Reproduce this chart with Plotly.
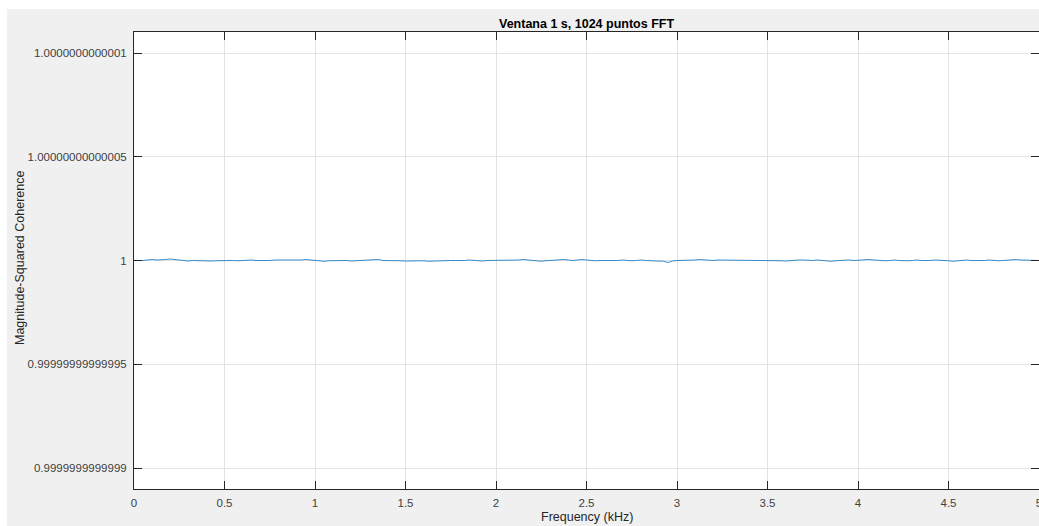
import numpy as np
import plotly.graph_objects as go

# Frequency axis (kHz) and magnitude-squared coherence deviation from 1, in units of 1e-16
freq_khz = np.round(np.arange(0, 201) * 0.025, 4)
msc_dev_e16 = [
    0, -1, 1, 2, 4, 2, 3, 5, 6, 4, 1, -1, -2, 0, -1, 1, 0, -2, -1, 1,
    0, 2, 1, -1, 0, 3, 2, 0, -1, -2, 1, 3, 2, -1, 0, 2, 1, 3, 4, 2,
    0, -1, -3, -1, 1, 0, 2, 1, -2, -1, 0, 1, 3, 5, 4, 1, 0, 2, 1, -1,
    -2, -1, 1, 0, -1, -3, -2, 0, 1, 2, 1, 0, -1, 1, 2, 0, -1, -2, 0, 1,
    3, 2, 0, -1, 1, 3, 4, 2, 0, -2, -3, -1, 1, 2, 4, 5, 3, 1, 3, 4,
    2, 0, -1, 1, 0, -2, -1, 1, 2, 0, -1, 0, 2, 1, -1, -2, 0, -3, -10, -2,
    0, 1, 2, 1, 3, 4, 2, 0, 1, 3, 2, 0, -1, 1, 0, 2, 3, 1, 0, -1,
    1, 2, 0, -1, -2, 0, 1, 3, 2, 0, 1, 2, 0, -2, -3, -1, 1, 2, 3, 1,
    0, 2, 4, 3, 1, 0, -1, 1, 2, 0, -2, -1, 1, 2, 1, -1, 0, 2, 3, 1,
    -1, -3, -1, 0, 2, 1, -1, 0, 1, 2, 0, -1, 1, 3, 5, 4, 2, 3, 1, 0, 1,
]
coherence = 1.0 + np.array(msc_dev_e16, dtype=float) * 1e-16

x_tickvals = [0, 0.5, 1, 1.5, 2, 2.5, 3, 3.5, 4, 4.5, 5]
x_ticktext = ["0", "0.5", "1", "1.5", "2", "2.5", "3", "3.5", "4", "4.5", "5"]
y_tickvals = [1 - 1e-13, 1 - 5e-14, 1.0, 1 + 5e-14, 1 + 1e-13]
y_ticktext = ["0.9999999999999", "0.99999999999995", "1",
              "1.00000000000005", "1.0000000000001"]

title_text = "Ventana 1 s, 1024 puntos FFT"
x_label = "Frequency (kHz)"
y_label = "Magnitude-Squared Coherence"

W, H = 1039, 526
L, R, T, B = 134, 0, 32, 37
PW, PH = W - L - R, H - T - B


def px_x(px):
    return (px - L) / PW


def px_y(py):
    return (H - B - py) / PH


FONT = "Liberation Sans, Arial, Helvetica, sans-serif"
AX_COL = "#262626"
TXT_COL = "#404040"
GRID = "#e3e3e3"

fig = go.Figure()
fig.add_trace(go.Scatter(
    x=freq_khz, y=coherence, mode="lines",
    line=dict(color="#1f7fc4", width=0.9),
    showlegend=False, hoverinfo="skip",
))

axis_common = dict(
    showline=True, linecolor=AX_COL, linewidth=1, mirror="ticks",
    ticks="inside", ticklen=8, tickwidth=1, tickcolor=AX_COL,
    showgrid=True, gridcolor=GRID, gridwidth=1, zeroline=False,
    tickfont=dict(family=FONT, size=11.5, color=TXT_COL),
    tickmode="array", ticklabeloverflow="allow", automargin=False,
)

fig.update_xaxes(range=[0, 5], tickvals=x_tickvals, ticktext=x_ticktext,
                 ticklabelstandoff=3, **axis_common)
fig.update_yaxes(range=[1 - 1.1e-13, 1 + 1.1e-13], tickvals=y_tickvals,
                 ticktext=y_ticktext, ticklabelstandoff=4, **axis_common)

annotations = [
    dict(text="<b>" + title_text + "</b>", x=0.5, y=px_y(23.5),
         font=dict(family=FONT, size=12.5, color="#000000")),
    dict(text=x_label, x=0.5, y=px_y(517),
         font=dict(family=FONT, size=12.5, color=AX_COL)),
    dict(text=y_label, x=px_x(20), y=px_y(258), textangle=-90,
         font=dict(family=FONT, size=12.5, color=AX_COL)),
]
for a in annotations:
    a.update(xref="paper", yref="paper", xanchor="center", yanchor="middle",
             showarrow=False)

# Thin white border strips along the top and left edges of the canvas
shapes = [
    dict(type="rect", xref="paper", yref="paper",
         x0=px_x(-5), x1=px_x(W + 5), y0=px_y(9), y1=px_y(-5),
         fillcolor="white", line=dict(width=0), layer="above"),
    dict(type="rect", xref="paper", yref="paper",
         x0=px_x(-5), x1=px_x(7), y0=px_y(H + 5), y1=px_y(-5),
         fillcolor="white", line=dict(width=0), layer="above"),
]

fig.update_layout(
    width=W, height=H,
    margin=dict(l=L, r=R, t=T, b=B, pad=0, autoexpand=False),
    paper_bgcolor="#f0f0f0", plot_bgcolor="#ffffff",
    annotations=annotations, shapes=shapes,
    font=dict(family=FONT),
)

fig.write_html("out.html")
